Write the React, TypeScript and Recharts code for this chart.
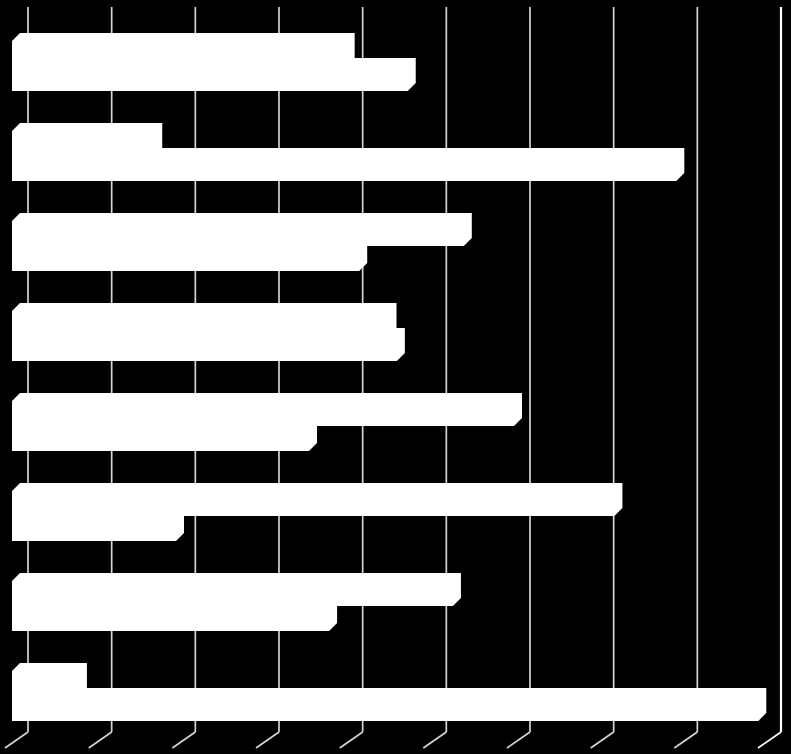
import * as React from "react";
import { Bar, BarChart, CartesianGrid, XAxis, YAxis } from "recharts";

const categories = ["A", "B", "C", "D", "E", "F", "G", "H"];
const seriesBack = [40, 17, 54, 45, 60, 72, 52.7, 8];
const seriesFront = [47.3, 79.4, 41.5, 46, 35.5, 19.6, 37.9, 89.2];
const valueTicks = [0, 10, 20, 30, 40, 50, 60, 70, 80, 90];

const data = categories.map((name, i) => ({
  name,
  back: seriesBack[i],
  front: seriesFront[i],
}));

const DEPTH = 8;

// extruded box silhouette: front face plus top and right faces
function Box3D(props: any) {
  const { x, y, width, height } = props;
  if (width == null || width <= 0) return null;
  const x0 = x;
  const x1 = x + width;
  const top = y;
  const bottom = y + height;
  const pts = [
    [x0, bottom],
    [x0, top],
    [x0 + DEPTH, top - DEPTH],
    [x1 + DEPTH, top - DEPTH],
    [x1 + DEPTH, bottom - DEPTH],
    [x1, bottom],
  ]
    .map((p) => p.join(","))
    .join(" ");
  return <polygon points={pts} fill="#ffffff" />;
}

// grid lines sit on the back wall, with a slanted floor tick
function WallLine(props: any) {
  const { x1, y1, y2, index } = props;
  const last = index === valueTicks.length - 1;
  const wx = x1 + 16;
  const stroke = last ? "#ffffff" : "#d4d4d4";
  return (
    <g key={`wall-${index}`}>
      <line x1={wx} y1={y1 - 14} x2={wx} y2={y2 - 9} stroke={stroke} strokeWidth={last ? 2.2 : 1.7} />
      <line x1={wx} y1={y2 - 9} x2={wx - 23} y2={y2 + 7} stroke={stroke} strokeWidth={1.7} />
    </g>
  );
}

export default function App() {
  return (
    <div style={{ width: 791, height: 754, background: "#000" }}>
      <style>{"body{margin:0;background:#000}"}</style>
      <BarChart
        width={791}
        height={754}
        data={data}
        layout="vertical"
        barGap={0}
        margin={{ top: 21, right: 26, left: 12, bottom: 13 }}
      >
        <CartesianGrid horizontal={false} vertical={WallLine} />
        <XAxis type="number" domain={[0, 90]} ticks={valueTicks} hide />
        <YAxis type="category" dataKey="name" hide />
        <Bar dataKey="back" barSize={25} shape={Box3D} isAnimationActive={false} />
        <Bar dataKey="front" barSize={25} shape={Box3D} isAnimationActive={false} />
      </BarChart>
    </div>
  );
}
